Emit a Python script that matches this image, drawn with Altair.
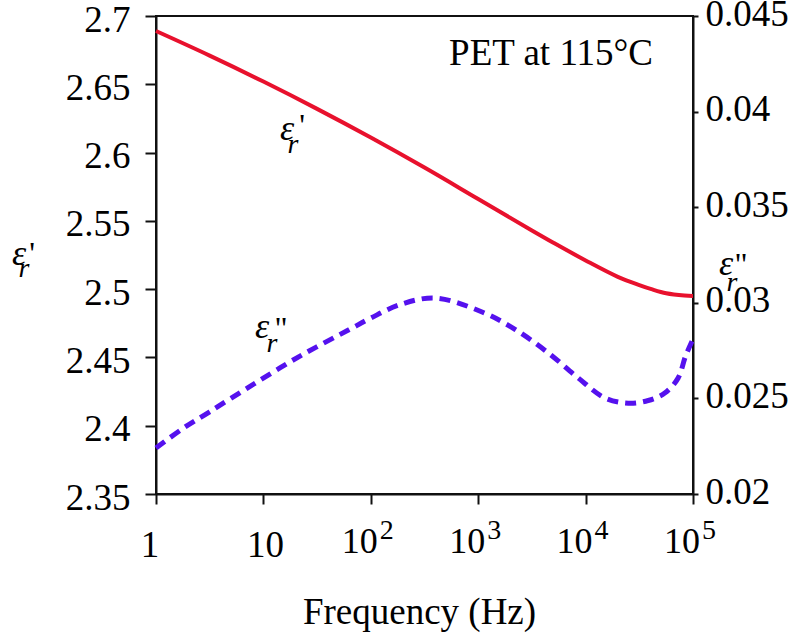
import altair as alt
import pandas as pd

FONT = "'Liberation Serif', 'Times New Roman', Times, serif"

# Real part of permittivity (left axis)
freq1 = [1, 3.16, 10, 31.6, 100, 316, 1000, 3162, 5012, 10000, 19953, 31623, 41020, 56234, 83176, 100000]
eps1 = [2.689, 2.671, 2.652, 2.632, 2.611, 2.589, 2.566, 2.543, 2.534, 2.521, 2.509, 2.503, 2.500, 2.497, 2.4953, 2.495]

# Imaginary part of permittivity (right axis)
freq2 = [1, 1.79, 3.16, 7.45, 21.7, 63.1, 100, 186, 398, 1086, 2218, 4519, 8570, 15170, 24950, 38280, 54580, 72610, 85110, 100000]
eps2 = [0.0224, 0.02344, 0.0243, 0.02562, 0.0272, 0.0286, 0.0292, 0.0299, 0.03025, 0.02952, 0.0286, 0.02737, 0.02606, 0.02502, 0.02475, 0.02489, 0.02528, 0.02606, 0.0272, 0.0281]

x_ticks = [1, 10, 100, 1000, 10000, 100000]
x_base = ["1", "10", "10", "10", "10", "10"]
x_exp = ["", "", "2", "3", "4", "5"]
left_ticks = [2.35, 2.4, 2.45, 2.5, 2.55, 2.6, 2.65, 2.7]
right_ticks = [0.02, 0.025, 0.03, 0.035, 0.04, 0.045]

df1 = pd.DataFrame({"f": freq1, "v": eps1})
df2 = pd.DataFrame({"f": freq2, "v": eps2})
ticks_df = pd.DataFrame({"f": x_ticks, "base": x_base, "exp": x_exp})
one_df = ticks_df[ticks_df["base"] == "1"]
ten_df = ticks_df[(ticks_df["base"] == "10") & (ticks_df["exp"] == "")]
pow_df = ticks_df[ticks_df["exp"] != ""]

xscale = alt.Scale(type="log", domain=[1, 100000], nice=False)
yl = alt.Scale(domain=[2.35, 2.7], nice=False, zero=False)
yr = alt.Scale(domain=[0.02, 0.045], nice=False, zero=False)

x_axis = alt.Axis(values=x_ticks, labels=False, tickSize=10, grid=False,
                  title="Frequency (Hz)", titleX=263, titleY=129,
                  titleBaseline="alphabetic", titleAlign="center",
                  titleFontSize=37, titleFont=FONT, titleFontWeight="normal",
                  titleColor="#000")

red = alt.Chart(df1).mark_line(color="#e8112d", strokeWidth=4, interpolate="catmull-rom").encode(
    x=alt.X("f:Q", scale=xscale, axis=x_axis),
    y=alt.Y("v:Q", scale=yl, axis=alt.Axis(
        orient="left", values=left_ticks, format=".2~f", tickSize=11,
        labelPadding=15, labelFontSize=37, labelFont=FONT, labelColor="#000",
        labelBaseline="alphabetic", labelOffset=15, labelFlush=False,
        labelOverlap=False, title="", grid=False)),
)

blue = alt.Chart(df2).mark_line(color="#5511ee", strokeWidth=5, strokeDash=[11, 7],
                                interpolate="catmull-rom").encode(
    x=alt.X("f:Q", scale=xscale),
    y=alt.Y("v:Q", scale=yr, axis=alt.Axis(
        orient="right", values=right_ticks, format=".3~f", tickSize=5,
        labelPadding=7, labelFontSize=37, labelFont=FONT, labelColor="#000",
        labelBaseline="alphabetic", labelOffset=9, labelFlush=False,
        labelOverlap=False, title="", grid=False)),
)

# bottom tick labels
lab_1 = alt.Chart(one_df).mark_text(font=FONT, fontSize=37, align="center", dx=-6,
                                    baseline="alphabetic", color="#000").encode(
    x=alt.X("f:Q", scale=xscale), y=alt.value(541), text="base:N")
lab_ten = alt.Chart(ten_df).mark_text(font=FONT, fontSize=37, align="center", dx=2,
                                      baseline="alphabetic", color="#000").encode(
    x=alt.X("f:Q", scale=xscale), y=alt.value(541), text="base:N")
lab_10 = alt.Chart(pow_df).mark_text(font=FONT, fontSize=36, align="right", dx=7,
                                     baseline="alphabetic", color="#000").encode(
    x=alt.X("f:Q", scale=xscale), y=alt.value(537), text="base:N")
lab_exp = alt.Chart(pow_df).mark_text(font=FONT, fontSize=28, align="left", dx=9,
                                      baseline="alphabetic", color="#000").encode(
    x=alt.X("f:Q", scale=xscale), y=alt.value(523), text="exp:N")

one = pd.DataFrame({"k": [0]})


def eps_pieces(df, prime, enc, r_off, p_off):
    out = []
    out.append(alt.Chart(df).mark_text(text="ε", font=FONT, fontStyle="italic", fontSize=36,
                                       align="center", baseline="alphabetic", color="#000").encode(**enc))
    out.append(alt.Chart(df).mark_text(text="r", font=FONT, fontStyle="italic", fontSize=28,
                                       align="center", baseline="alphabetic", color="#000",
                                       dx=r_off[0], dy=r_off[1]).encode(**enc))
    out.append(alt.Chart(df).mark_text(text=prime, font=FONT, fontSize=32,
                                       align="center", baseline="alphabetic", color="#000",
                                       dx=p_off[0], dy=p_off[1]).encode(**enc))
    return out


# curve labels in data coordinates (left scale)
lab1_df = pd.DataFrame({"f": [16.6], "v": [2.6092]})
lab2_df = pd.DataFrame({"f": [9.7], "v": [2.4642]})
enc1 = dict(x=alt.X("f:Q", scale=xscale), y=alt.Y("v:Q", scale=yl))
curve_lab1 = eps_pieces(lab1_df, "'", enc1, (6, 13), (15, -4))
curve_lab2 = eps_pieces(lab2_df, '"', enc1, (10, 14), (19, 1))

# axis titles
ltitle = eps_pieces(one, "'", dict(x=alt.value(-137), y=alt.value(249)), (5, 12), (13, -1))
rtitle = eps_pieces(one, '"', dict(x=alt.value(570), y=alt.value(259)), (6, 16), (15, 0))

title_df = pd.DataFrame({"f": [42430], "v": [2.6641], "t": ["PET at 115°C"]})
title_txt = alt.Chart(title_df).mark_text(font=FONT, fontSize=37, align="right",
                                          baseline="alphabetic", color="#000").encode(
    x=alt.X("f:Q", scale=xscale), y=alt.Y("v:Q", scale=yl), text="t:N")

left_group = alt.layer(red, lab_1, lab_ten, lab_10, lab_exp, title_txt,
                       *curve_lab1, *curve_lab2, *ltitle, *rtitle)
right_group = alt.layer(blue)

chart = alt.layer(left_group, right_group).resolve_scale(y="independent").properties(
    width=537, height=478,
    padding={"left": 156, "top": 16, "right": 104, "bottom": 139},
    autosize=alt.AutoSizeParams(type="none"),
    background="white",
).configure_view(stroke="#111", strokeWidth=2).configure_axis(
    domainColor="#111", domainWidth=2, tickColor="#111", tickWidth=2,
)

chart.save("out.html", embed_options={"renderer": "svg", "actions": False})
